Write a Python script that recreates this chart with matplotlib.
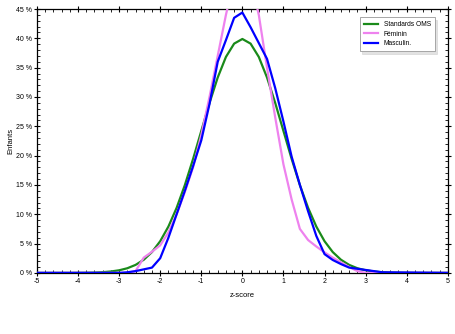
import matplotlib
matplotlib.use("Agg")
import matplotlib.pyplot as plt
from matplotlib.ticker import MultipleLocator, FuncFormatter

plt.rcParams['font.family'] = ['Liberation Sans', 'DejaVu Sans']

# Standards OMS (z, %)
z_oms = [-5.0, -4.8, -4.6, -4.4, -4.2, -4.0, -3.8, -3.6, -3.4, -3.2, -3.0, -2.8, -2.6, -2.4, -2.2,
         -2.0, -1.8, -1.6, -1.4, -1.2, -1.0, -0.8, -0.6, -0.4, -0.2, 0.0,
         0.2, 0.4, 0.6, 0.8, 1.0, 1.2, 1.4, 1.6, 1.8, 2.0, 2.2, 2.4, 2.6, 2.8, 3.0,
         3.2, 3.4, 3.6, 3.8, 4.0, 4.2, 4.4, 4.6, 4.8, 5.0]
v_oms = [0.0, 0.0, 0.0, 0.0, 0.0, 0.01, 0.03, 0.06, 0.12, 0.24, 0.44, 0.79, 1.36, 2.24, 3.55,
         5.40, 7.90, 11.09, 14.97, 19.42, 24.20, 28.97, 33.32, 36.83, 39.10, 39.89,
         39.10, 36.83, 33.32, 28.97, 24.20, 19.42, 14.97, 11.09, 7.90, 5.40, 3.55, 2.24, 1.36, 0.79, 0.44,
         0.24, 0.12, 0.06, 0.03, 0.01, 0.0, 0.0, 0.0, 0.0, 0.0]

# Féminin
z_fem = [-5.0, -3.0, -2.8, -2.6, -2.4, -2.2, -2.0, -1.8, -1.6, -1.4, -1.2, -1.0, -0.8, -0.6, -0.4, -0.2,
         0.0, 0.2, 0.4, 0.6, 0.8, 1.0, 1.2, 1.4, 1.6, 1.8, 2.0, 2.2, 2.4, 2.6, 2.8, 3.0, 5.0]
v_fem = [0.0, 0.0, 0.0, 0.3, 2.6, 3.6, 4.7, 6.9, 10.0, 13.8, 18.0, 23.5, 30.0, 37.0, 44.0, 50.0,
         53.0, 50.0, 44.0, 35.0, 26.5, 18.5, 12.5, 7.5, 5.6, 4.5, 3.5, 2.6, 1.8, 1.0, 0.3, 0.0, 0.0]

# Masculin
z_mas = [-5.0, -3.0, -2.8, -2.6, -2.4, -2.2, -2.0, -1.8, -1.6, -1.4, -1.2, -1.0, -0.8, -0.6, -0.4, -0.2,
         0.0, 0.2, 0.4, 0.6, 0.8, 1.0, 1.2, 1.4, 1.6, 1.8, 2.0, 2.2, 2.4, 2.6, 2.8, 3.0, 3.2, 3.4, 5.0]
v_mas = [0.0, 0.0, 0.1, 0.3, 0.6, 0.9, 2.5, 6.0, 10.0, 14.0, 18.2, 22.6, 28.8, 36.0, 39.7, 43.5,
         44.4, 41.9, 39.2, 36.5, 31.5, 25.8, 19.8, 15.0, 10.5, 6.3, 3.2, 2.2, 1.5, 0.9, 0.7, 0.5, 0.3, 0.1, 0.0]

fig = plt.figure(figsize=(4.56, 3.34), dpi=100)
ax = fig.add_axes([0.081, 0.183, 0.901, 0.79])

ax.plot(z_oms, v_oms, color='#1a8a1a', lw=1.6, label='Standards OMS', zorder=3)
ax.plot(z_fem, v_fem, color='#ee82ee', lw=1.6, label='Féminin', zorder=4)
ax.plot(z_mas, v_mas, color='#0000ff', lw=1.6, label='Masculin.', zorder=5)

ax.set_xlim(-5, 5)
ax.set_ylim(0, 45)
ax.xaxis.set_major_locator(MultipleLocator(1))
ax.xaxis.set_minor_locator(MultipleLocator(0.2))
ax.yaxis.set_major_locator(MultipleLocator(5))
ax.yaxis.set_minor_locator(MultipleLocator(1))
ax.yaxis.set_major_formatter(FuncFormatter(lambda v, p: f"{int(round(v))} %"))
ax.xaxis.set_major_formatter(FuncFormatter(lambda v, p: f"{int(round(v))}"))

ax.tick_params(which='major', direction='inout', length=4, width=0.8, labelsize=5,
               top=True, right=True, pad=1.5)
ax.tick_params(which='minor', direction='in', length=2, width=0.6, top=True, right=True)
for s in ax.spines.values():
    s.set_linewidth(0.9)

ax.set_xlabel('z-score', fontsize=5.5, labelpad=5)
ax.set_ylabel('Enfants', fontsize=5.5, labelpad=1)

leg = ax.legend(loc='upper right', bbox_to_anchor=(0.968, 0.968), fontsize=4.8, frameon=True,
                fancybox=False, shadow={'color': '0.78'}, handlelength=2.2, borderpad=0.6,
                labelspacing=0.35, handletextpad=0.8, borderaxespad=0)
leg.get_frame().set_edgecolor('#999999')
leg.get_frame().set_linewidth(0.6)

fig.savefig('out.png', dpi=100)
